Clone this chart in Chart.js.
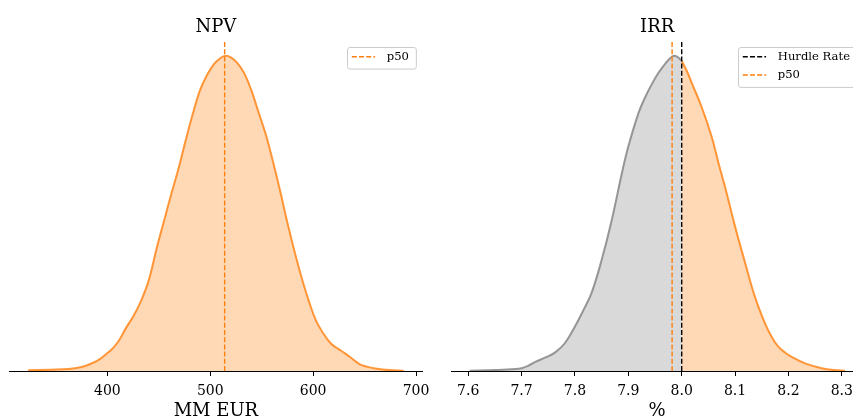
<!DOCTYPE html>
<html>
<head>
<meta charset="utf-8">
<script src="https://cdn.jsdelivr.net/npm/chart.js@4/dist/chart.umd.min.js"></script>
<style>
  html, body { margin: 0; padding: 0; background: #fff; overflow: hidden; }
  #wrap { position: relative; width: 853px; height: 419px; overflow: hidden; }
  #npv { position: absolute; left: 0; top: 0; }
  #irr { position: absolute; left: 430px; top: 0; }
</style>
</head>
<body>
<div id="wrap">
  <canvas id="npv" width="430" height="419"></canvas>
  <canvas id="irr" width="450" height="419"></canvas>
</div>
<script>
// NPV distribution (MM EUR) – kernel density, relative height
const NPV_X = [323, 345, 362, 375, 384, 392, 399, 405, 411, 418, 425, 432, 440, 448, 455, 462, 469, 476, 483, 490,
               497, 504, 510, 515, 520, 526, 533, 540, 547, 554, 561, 568, 575, 582, 589, 596, 603, 610, 617, 624,
               631, 638, 645, 653, 662, 674, 688];
const NPV_DENSITY = [0.002, 0.004, 0.006, 0.013, 0.023, 0.036, 0.054, 0.071, 0.095, 0.136, 0.172, 0.217, 0.285, 0.39, 0.475, 0.56, 0.64, 0.73, 0.815, 0.89,
                     0.94, 0.975, 0.993, 1.0, 0.995, 0.978, 0.945, 0.89, 0.82, 0.75, 0.664, 0.57, 0.47, 0.378, 0.294, 0.22, 0.158, 0.119, 0.088, 0.071,
                     0.056, 0.039, 0.022, 0.013, 0.007, 0.003, 0.001];
const NPV_P50 = 514;
const NPV_TICKS = [400, 500, 600, 700];
const NPV_RANGE = [305, 706];

// IRR distribution (%) – split at the hurdle rate
const IRR_LOW_X = [7.603, 7.65, 7.688, 7.70, 7.712, 7.725, 7.745, 7.763, 7.781, 7.80, 7.815, 7.831, 7.85, 7.869, 7.888,
                   7.90, 7.919, 7.932, 7.944, 7.955, 7.966, 7.976, 7.985, 7.993, 8.0];
const IRR_LOW_DENSITY = [0.001, 0.003, 0.006, 0.009, 0.016, 0.028, 0.043, 0.059, 0.088, 0.141, 0.19, 0.247, 0.352, 0.479, 0.628,
                         0.712, 0.818, 0.87, 0.91, 0.942, 0.968, 0.988, 1.0, 0.995, 0.984];
const IRR_HIGH_X = [8.0, 8.01, 8.019, 8.037, 8.056, 8.069, 8.081, 8.1, 8.119, 8.137, 8.156, 8.168, 8.181, 8.194, 8.206,
                    8.231, 8.262, 8.285, 8.306];
const IRR_HIGH_DENSITY = [0.984, 0.95, 0.913, 0.839, 0.744, 0.659, 0.585, 0.458, 0.342, 0.236, 0.151, 0.11, 0.077, 0.058, 0.045,
                          0.024, 0.009, 0.003, 0.001];
const IRR_P50 = 7.982;
const HURDLE_RATE = 8.0;
const IRR_TICKS = [7.6, 7.7, 7.8, 7.9, 8.0, 8.1, 8.2, 8.3];
const IRR_RANGE = [7.568, 8.340];

const Y_MAX = 1.05;
const SERIF = "'DejaVu Serif', serif";

const ORANGE_LINE = 'rgba(255,127,14,0.8)';
const ORANGE_FILL = 'rgba(255,127,14,0.3)';
const GREY_LINE = 'rgba(128,128,128,0.8)';
const GREY_FILL = 'rgba(128,128,128,0.3)';
const DASH = [5, 2.2];

const points = (xs, ys) => xs.map((x, i) => ({ x, y: ys[i] }));

function curve(xs, ys, line, fill) {
  return {
    data: points(xs, ys), borderColor: line, backgroundColor: fill, fill: 'origin',
    borderWidth: 2, tension: 0.4, pointRadius: 0, order: 2
  };
}
function marker(label, x, color) {
  return {
    label, data: [{ x, y: 0 }, { x, y: Y_MAX }], borderColor: color, borderWidth: 1.4,
    borderDash: DASH, fill: false, pointRadius: 0, tension: 0, order: 0
  };
}

// Title above the panel and a framed legend in its upper-right corner
const panelDecor = {
  id: 'panelDecor',
  afterDraw(chart, args, opts) {
    const { ctx, chartArea: a } = chart;
    ctx.save();
    ctx.fillStyle = '#000';
    ctx.font = `18px ${SERIF}`;
    ctx.textAlign = 'center';
    ctx.textBaseline = 'alphabetic';
    ctx.fillText(opts.title, (a.left + a.right) / 2, 31.5);

    const items = chart.data.datasets.filter(d => d.label);
    ctx.font = `11.6px ${SERIF}`;
    const tw = Math.max(...items.map(d => ctx.measureText(d.label).width));
    const w = 5 + 23.3 + 11.7 + tw + 6.7;
    const h = 3.3 + 18.3 * items.length;
    const right = a.right - 6.5, top = a.top + 6.7, left = right - w;
    ctx.beginPath();
    ctx.roundRect(Math.round(left) + 0.5, Math.round(top) + 0.5, w, h, 2.5);
    ctx.fillStyle = 'rgba(255,255,255,0.8)';
    ctx.fill();
    ctx.strokeStyle = '#cccccc';
    ctx.lineWidth = 1;
    ctx.stroke();
    items.forEach((d, i) => {
      const y = top + 10 + i * 18.3;
      ctx.beginPath();
      ctx.setLineDash(d.borderDash);
      ctx.strokeStyle = d.borderColor;
      ctx.lineWidth = d.borderWidth;
      ctx.moveTo(left + 5, y);
      ctx.lineTo(left + 28.3, y);
      ctx.stroke();
      ctx.setLineDash([]);
      ctx.fillStyle = '#000';
      ctx.textAlign = 'left';
      ctx.textBaseline = 'middle';
      ctx.fillText(d.label, left + 40, y);
    });
    ctx.restore();
  }
};

function densityPanel(id, cfg) {
  return new Chart(document.getElementById(id), {
    type: 'line',
    data: { datasets: cfg.datasets },
    options: {
      responsive: false, animation: false, devicePixelRatio: 1,
      layout: { padding: { top: 40, left: cfg.padLeft, right: cfg.padRight, bottom: 0 } },
      plugins: { legend: { display: false }, tooltip: { enabled: false }, panelDecor: { title: cfg.title } },
      scales: {
        x: {
          type: 'linear', min: cfg.range[0], max: cfg.range[1],
          afterBuildTicks: s => { s.ticks = cfg.ticks.map(v => ({ value: v })); },
          afterFit: s => { s.height = 48; s.paddingLeft = 0; s.paddingRight = 0; },
          ticks: { callback: cfg.fmt, color: '#000', font: { family: SERIF, size: 14 }, padding: 7,
                   maxRotation: 0, autoSkip: false },
          grid: { drawOnChartArea: false, drawTicks: true, tickLength: 5, tickColor: '#000', tickWidth: 1 },
          border: { display: true, color: '#000', width: 1 },
          title: { display: true, text: cfg.xTitle, color: '#000',
                   font: { family: SERIF, size: 18, lineHeight: 0.85 }, padding: { top: 0, bottom: 0 } }
        },
        y: { display: false, min: 0, max: Y_MAX }
      }
    },
    plugins: [panelDecor]
  });
}

densityPanel('npv', {
  title: 'NPV', xTitle: 'MM EUR', range: NPV_RANGE, ticks: NPV_TICKS, fmt: v => String(v),
  padLeft: 9.6, padRight: 7.8,
  datasets: [
    marker('p50', NPV_P50, '#ff7f0e'),
    curve(NPV_X, NPV_DENSITY, ORANGE_LINE, ORANGE_FILL)
  ]
});

densityPanel('irr', {
  title: 'IRR', xTitle: '%', range: IRR_RANGE, ticks: IRR_TICKS, fmt: v => Number(v).toFixed(1),
  padLeft: 21.1, padRight: 16.8,
  datasets: [
    marker('Hurdle Rate', HURDLE_RATE, '#000000'),
    marker('p50', IRR_P50, '#ff7f0e'),
    curve(IRR_LOW_X, IRR_LOW_DENSITY, GREY_LINE, GREY_FILL),
    curve(IRR_HIGH_X, IRR_HIGH_DENSITY, ORANGE_LINE, ORANGE_FILL)
  ]
});
</script>
</body>
</html>
